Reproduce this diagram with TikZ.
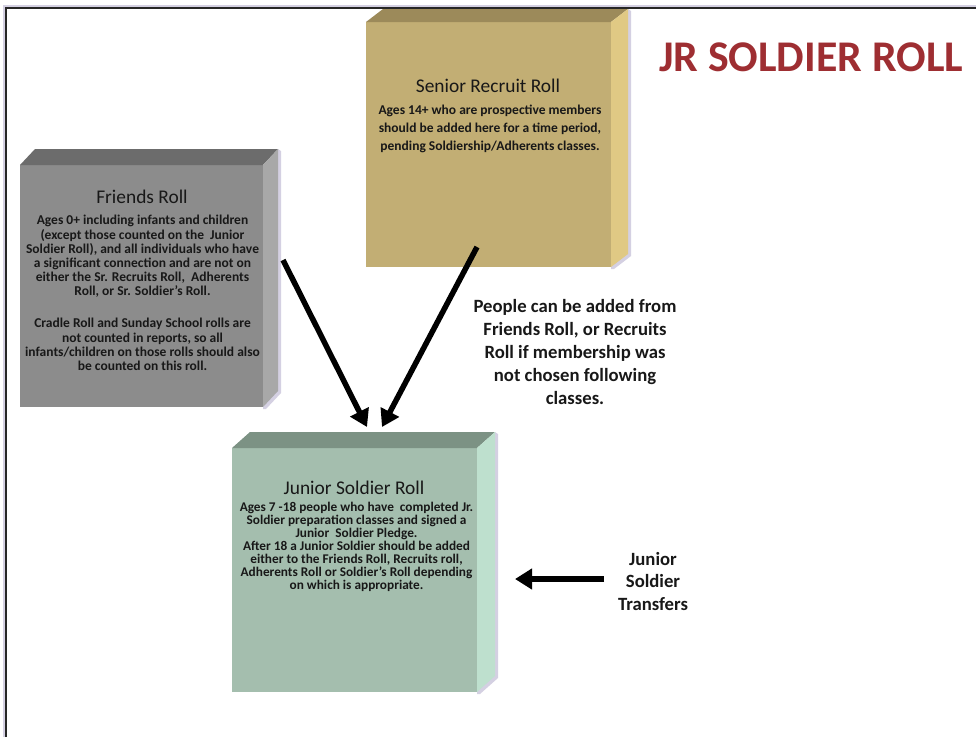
\documentclass[tikz,border=0pt]{standalone}
\usepackage{fontspec}
\setmainfont{Carlito}
\usetikzlibrary{arrows.meta,calc}
\definecolor{srfront}{RGB}{194,174,116}
\definecolor{srtop}{RGB}{156,138,90}
\definecolor{srright}{RGB}{224,201,132}
\definecolor{frfront}{RGB}{140,140,140}
\definecolor{frtop}{RGB}{108,108,108}
\definecolor{frright}{RGB}{168,168,168}
\definecolor{jrfront}{RGB}{164,190,174}
\definecolor{jrtop}{RGB}{124,146,132}
\definecolor{jrright}{RGB}{190,224,206}
\definecolor{titlered}{RGB}{158,46,50}
\definecolor{shadowc}{RGB}{212,208,226}
\definecolor{txt}{RGB}{24,24,24}
\begin{document}
\begin{tikzpicture}[x=1pt,y=-1pt,
  face/.style={inner sep=0pt, outer sep=0pt, draw=none},
  boxtitle/.style={text=txt, font=\fontsize{19.4}{22}\selectfont, inner sep=0pt},
  boxbody/.style={text=txt, align=center, inner sep=0pt},
  bigarrow/.style={line width=5.5pt, -{Triangle[length=17pt,width=20pt]}},
  note/.style={text=txt, align=center, inner sep=0pt}
]
\useasboundingbox (0,0) rectangle (976,737);
\fill[white] (0,0) rectangle (976,737);
% frame
\coordinate (fTL) at (6,8);
\coordinate (fTR) at (976,8);
\coordinate (fBL) at (6,737);
\draw[shadowc, line width=2pt] ($(fBL)+(-2,0)$) -- ($(fTL)+(-2,-2)$) -- ($(fTR)+(0,-2)$);
\draw[black!85, line width=1.4pt] (fBL) -- (fTL) -- (fTR);

% ---------- Senior Recruit Roll box
\node[face, fill=srfront, minimum width=245pt, minimum height=245pt] (sr) at (488.5,144.5) {};
\fill[shadowc] ($(sr.north east)+(17,-13)$) -- ++(3,2) -- ($(sr.south east)+(20,-11)$) -- ($(sr.south east)+(3,2)$) -- ($(sr.south east)+(0,2)$) -- (sr.south east) -- cycle;
\fill[srtop] (sr.north west) -- (sr.north east) -- ++(17,-13) -- ($(sr.north west)+(17,-13)$) -- cycle;
\fill[srright] (sr.north east) -- ++(17,-13) -- ($(sr.south east)+(17,-13)$) -- (sr.south east) -- cycle;
\node[boxtitle] (srtitle) at (488,86) {Senior Recruit Roll};
\node[boxbody, font=\bfseries\fontsize{13.5}{18}\selectfont] (srbody) at (490,129) {Ages 14+ who are prospective members\\should be added here for a time period,\\pending Soldiership/Adherents classes.};

% ---------- Friends Roll box
\node[face, fill=frfront, minimum width=243pt, minimum height=242pt] (fr) at (141.5,286) {};
\fill[shadowc] ($(fr.north east)+(15,-16)$) -- ++(3,2) -- ($(fr.south east)+(18,-14)$) -- ($(fr.south east)+(3,2)$) -- ($(fr.south east)+(0,2)$) -- (fr.south east) -- cycle;
\fill[frtop] (fr.north west) -- (fr.north east) -- ++(15,-16) -- ($(fr.north west)+(15,-16)$) -- cycle;
\fill[frright] (fr.north east) -- ++(15,-16) -- ($(fr.south east)+(15,-16)$) -- (fr.south east) -- cycle;
\node[boxtitle] (frtitle) at (142,197) {Friends Roll};
\node[boxbody, font=\bfseries\fontsize{13.5}{14.2}\selectfont] (frbody) at (142.5,293) {Ages 0+ including infants and children\\(except those counted on the\ \ Junior\\Soldier Roll), and all individuals who have\\a significant connection and are not on\\either the Sr. Recruits Roll,\ \ Adherents\\Roll, or Sr. Soldier’s Roll.\\[17.8pt]Cradle Roll and Sunday School rolls are\\not counted in reports, so all\\infants/children on those rolls should also\\be counted on this roll.};

% ---------- Junior Soldier Roll box
\node[face, fill=jrfront, minimum width=245pt, minimum height=244pt] (jr) at (354.5,570) {};
\fill[shadowc] ($(jr.north east)+(18,-16)$) -- ++(3,2) -- ($(jr.south east)+(21,-14)$) -- ($(jr.south east)+(3,2)$) -- ($(jr.south east)+(0,2)$) -- (jr.south east) -- cycle;
\fill[jrtop] (jr.north west) -- (jr.north east) -- ++(18,-16) -- ($(jr.north west)+(18,-16)$) -- cycle;
\fill[jrright] (jr.north east) -- ++(18,-16) -- ($(jr.south east)+(18,-16)$) -- (jr.south east) -- cycle;
\node[boxtitle] (jrtitle) at (354,488) {Junior Soldier Roll};
\node[boxbody, font=\bfseries\fontsize{13.3}{13}\selectfont] (jrbody) at (356.5,547) {Ages 7 -18 people who have\ \ completed Jr.\\Soldier preparation classes and signed a\\Junior\ \ Soldier Pledge.\\After 18 a Junior Soldier should be added\\either to the Friends Roll, Recruits roll,\\Adherents Roll or Soldier’s Roll depending\\on which is appropriate.};

% ---------- title
\node[text=titlered, font=\bfseries\fontsize{43.8}{48}\selectfont, inner sep=0pt] (title) at (811,57) {JR SOLDIER ROLL};

% ---------- notes
\node[note, font=\bfseries\fontsize{18.7}{23.2}\selectfont] (addnote) at (575,352) {People can be added from\\Friends Roll, or Recruits\\Roll if membership was\\not chosen following\\classes.};
\node[note, font=\bfseries\fontsize{18.7}{22.5}\selectfont] (transfer) at (653,581) {Junior\\Soldier\\Transfers};

% ---------- arrows
\coordinate (fa) at (283,260);
\coordinate (fb) at (367,427);
\coordinate (sa) at (477,247);
\coordinate (sb) at (382,427);
\coordinate (ta) at (604,579);
\coordinate (tb) at (515,579);
\draw[bigarrow] (fa) -- (fb);
\draw[bigarrow] (sa) -- (sb);
\draw[bigarrow] (ta) -- (tb);
\end{tikzpicture}
\end{document}
